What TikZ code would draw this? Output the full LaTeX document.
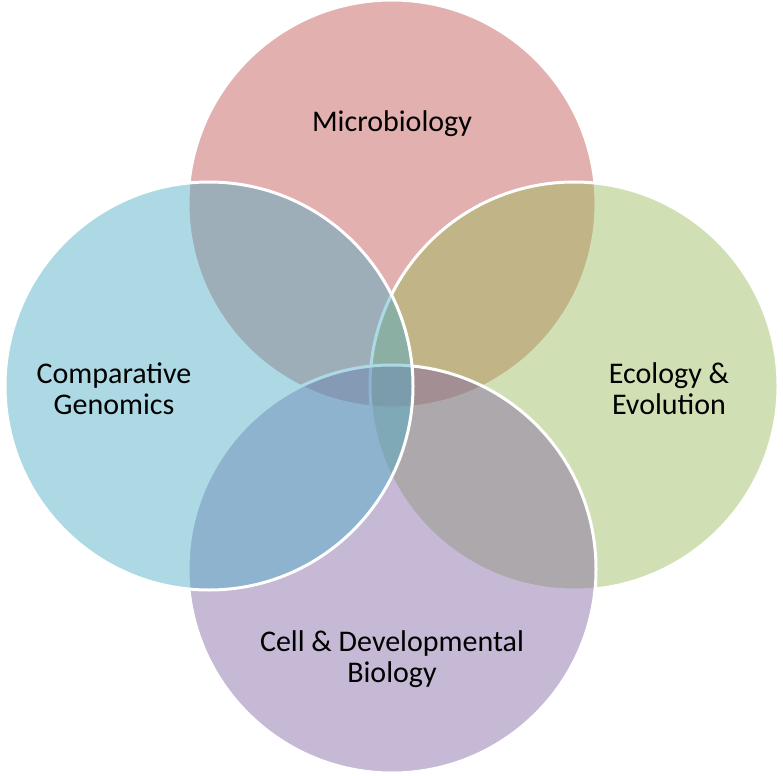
\documentclass[tikz,border=0pt]{standalone}
\usepackage{fontspec}
\setmainfont{Carlito}
\usetikzlibrary{positioning}
\definecolor{vennred}{HTML}{C0504D}
\definecolor{venngreen}{HTML}{9BBB59}
\definecolor{vennpurple}{HTML}{8064A2}
\definecolor{vennblue}{HTML}{4BACC6}
\tikzset{
    venn/.style={draw=white, line width=3pt, fill opacity=0.45, draw opacity=1},
    venntext/.style={align=center, text=black, font=\fontsize{30}{31}\selectfont}
}

\begin{document}
\begin{tikzpicture}[x=1pt,y=-1pt]
        \useasboundingbox[fill=white] (0,0) rectangle (783,775);

        % The four circles, back to front
        \foreach \cx/\cy/\col in {392/204/vennred, 574/386/venngreen, 392/569/vennpurple, 209/386/vennblue} {
            \draw[venn, fill=\col] (\cx,\cy) circle (204pt);
        }

        % Labels
        \node[venntext] (micro) at (392,124) {Microbiology};
        \node[venntext] (genomics) at (114,389) {Comparative\\Genomics};
        \node[venntext] (ecology) at (669,389) {Ecology \&\\Evolution};
        \node[venntext] (cell) at (392,659) {Cell \& Developmental\\Biology};
    \end{tikzpicture}
\end{document}
